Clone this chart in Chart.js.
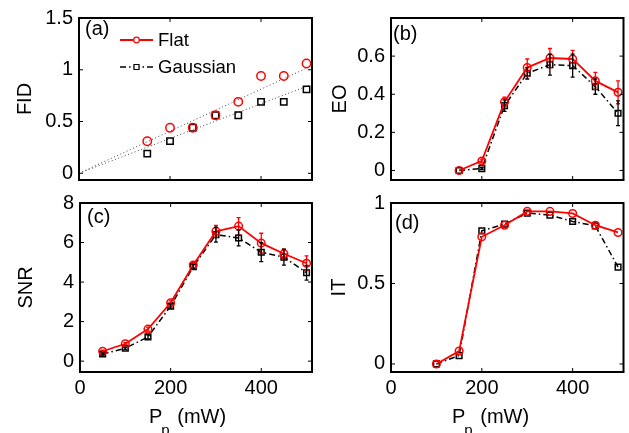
<!DOCTYPE html>
<html>
<head>
<meta charset="utf-8">
<title>Pump power dependence</title>
<script src="https://cdn.jsdelivr.net/npm/chart.js@4"></script>
<style>
  html, body { margin: 0; padding: 0; background: #fff; }
  #wrap { position: relative; width: 629px; height: 433px; }
  #wrap canvas { position: absolute; left: 0; top: 0; }
</style>
</head>
<body>
<div id="wrap">
  <canvas id="fid" width="629" height="433"></canvas>
  <canvas id="eo" width="629" height="433"></canvas>
  <canvas id="snr" width="629" height="433"></canvas>
  <canvas id="it" width="629" height="433"></canvas>
</div>
<script>
// pump power (mW) and measured quantities, flat-top vs gaussian pump
const xTicks = [0, 200, 400];
const xMax = 512;

// (a) FID
const fidPower = [150, 200, 250, 300, 350, 400, 450, 500];
const fidFlat  = [0.31, 0.44, 0.44, 0.56, 0.69, 0.94, 0.94, 1.06];
const fidGauss = [0.19, 0.31, 0.44, 0.56, 0.56, 0.69, 0.69, 0.81];
const fitPower = [0, 512];
const fitFlat  = [0, 1.04];
const fitGauss = [0, 0.86];
const fidTicks = [0, 0.5, 1, 1.5];

// (b) EO
const eoPower    = [150, 200, 250, 300, 350, 400, 450, 500];
const eoFlat     = [0, 0.05, 0.36, 0.54, 0.59, 0.585, 0.47, 0.41];
const eoFlatErr  = [0, 0.01, 0.025, 0.045, 0.05, 0.045, 0.045, 0.06];
const eoGauss    = [0, 0.01, 0.34, 0.51, 0.555, 0.55, 0.44, 0.30];
const eoGaussErr = [0, 0.005, 0.03, 0.03, 0.055, 0.06, 0.04, 0.065];
const eoTicks = [0, 0.2, 0.4, 0.6];

// (c) SNR
const snrPower    = [50, 100, 150, 200, 250, 300, 350, 400, 450, 500];
const snrFlat     = [0.5, 0.88, 1.62, 2.95, 4.86, 6.57, 6.83, 5.97, 5.43, 4.95];
const snrFlatErr  = [0.05, 0.06, 0.1, 0.1, 0.12, 0.3, 0.43, 0.5, 0.24, 0.37];
const snrGauss    = [0.36, 0.65, 1.23, 2.78, 4.78, 6.4, 6.23, 5.51, 5.26, 4.47];
const snrGaussErr = [0.05, 0.06, 0.1, 0.1, 0.1, 0.38, 0.4, 0.48, 0.4, 0.37];
const snrTicks = [0, 2, 4, 6, 8];

// (d) IT
const itPower = [100, 150, 200, 250, 300, 350, 400, 450, 500];
const itFlat  = [0, 0.08, 0.79, 0.862, 0.948, 0.948, 0.935, 0.862, 0.817];
const itGauss = [0, 0.052, 0.827, 0.869, 0.9375, 0.925, 0.885, 0.858, 0.602];
const itTicks = [0, 0.5, 1];

const FONT = "'Liberation Sans', Arial, Helvetica, sans-serif";
Chart.defaults.font.family = FONT;
Chart.defaults.font.size = 20;
Chart.defaults.color = '#000';

const RED = '#ff0000';
const flatStyle = {
  borderColor: RED, borderWidth: 1.8, pointStyle: 'circle', pointRadius: 3.8,
  pointBorderWidth: 1.5, pointBorderColor: RED, pointBackgroundColor: 'rgba(0,0,0,0)'
};
const gaussStyle = {
  borderColor: '#000', borderWidth: 1.5, borderDash: [6, 3, 1.5, 3], pointStyle: 'rect',
  pointRadius: 4, pointBorderWidth: 1.5, pointBorderColor: '#000', pointBackgroundColor: 'rgba(0,0,0,0)'
};

const pts = (xs, ys) => xs.map((x, i) => ({ x, y: ys[i] }));

// box, inward ticks, error bars, panel letter, subscripted x title and legend
const frame = {
  id: 'frame',
  afterDatasetsDraw(chart, args, o) {
    const { ctx, chartArea: a, scales: { x, y } } = chart;
    ctx.save();
    ctx.setLineDash([]);

    chart.data.datasets.forEach((ds, i) => {
      if (!ds.errors) return;
      const meta = chart.getDatasetMeta(i);
      ctx.strokeStyle = ds.borderColor;
      ctx.lineWidth = 1.3;
      meta.data.forEach((pt, j) => {
        const e = ds.errors[j];
        if (!e) return;
        const v = ds.data[j].y;
        const y1 = y.getPixelForValue(v - e), y2 = y.getPixelForValue(v + e);
        ctx.beginPath();
        ctx.moveTo(pt.x, y1); ctx.lineTo(pt.x, y2);
        ctx.moveTo(pt.x - 2, y1); ctx.lineTo(pt.x + 2, y1);
        ctx.moveTo(pt.x - 2, y2); ctx.lineTo(pt.x + 2, y2);
        ctx.stroke();
      });
    });

    ctx.strokeStyle = '#000';
    ctx.lineWidth = 2;
    ctx.strokeRect(a.left, a.top, a.right - a.left, a.bottom - a.top);

    ctx.lineWidth = 1;
    ctx.beginPath();
    x.ticks.forEach(t => {
      const px = x.getPixelForValue(t.value);
      ctx.moveTo(px, a.bottom); ctx.lineTo(px, a.bottom - 4);
      ctx.moveTo(px, a.top); ctx.lineTo(px, a.top + 4);
    });
    y.ticks.forEach(t => {
      const py = y.getPixelForValue(t.value);
      ctx.moveTo(a.left, py); ctx.lineTo(a.left + 4, py);
      ctx.moveTo(a.right, py); ctx.lineTo(a.right - 4, py);
    });
    ctx.stroke();

    ctx.fillStyle = '#000';
    ctx.font = '20px ' + FONT;
    ctx.textBaseline = 'top';
    ctx.textAlign = 'left';
    ctx.fillText(o.label, o.labelX, o.labelY);

    if (o.xTitleX) {
      ctx.textBaseline = 'alphabetic';
      let cx = o.xTitleX;
      ctx.fillText('P', cx, 423);
      cx += ctx.measureText('P').width - 1;
      ctx.font = '15px ' + FONT;
      ctx.fillText('p', cx, 435);
      cx += ctx.measureText('p').width + 2;
      ctx.font = '20px ' + FONT;
      ctx.fillText(' (mW)', cx, 423);
    }

    if (o.legend) {
      ctx.font = '18.5px ' + FONT;
      ctx.textBaseline = 'middle';
      o.legend.forEach((item, k) => {
        const ly = 40 + k * 27, x0 = 120, x1 = 153, xm = (x0 + x1) / 2;
        const st = item.style;
        ctx.strokeStyle = st.borderColor;
        ctx.lineWidth = st.borderWidth;
        ctx.setLineDash(st.borderDash || []);
        ctx.beginPath(); ctx.moveTo(x0, ly); ctx.lineTo(x1, ly); ctx.stroke();
        ctx.setLineDash([]);
        ctx.lineWidth = 1.2;
        ctx.fillStyle = '#fff';
        ctx.beginPath();
        if (st.pointStyle === 'circle') ctx.arc(xm, ly, 2.8, 0, Math.PI * 2);
        else ctx.rect(xm - 2.5, ly - 2.5, 5, 5);
        ctx.fill(); ctx.stroke();
        ctx.fillStyle = '#000';
        ctx.fillText(item.text, 158, ly + 1);
      });
    }
    ctx.restore();
  }
};

function makePanel(id, p) {
  const padLeft = p.yTitleX - 12;
  const xh = p.xLabels ? 433 - p.area.b : 2;
  return new Chart(document.getElementById(id), {
    type: 'line',
    data: { datasets: p.datasets },
    options: {
      responsive: false,
      animation: false,
      events: [],
      layout: { padding: { left: padLeft, top: p.area.t, right: 629 - p.area.r, bottom: 433 - p.area.b - xh } },
      scales: {
        x: {
          type: 'linear', min: 0, max: xMax,
          afterBuildTicks: s => { s.ticks = xTicks.map(v => ({ value: v })); },
          afterFit: s => { s.height = xh; },
          grid: { display: false, drawTicks: false },
          border: { display: false },
          ticks: { display: !!p.xLabels, padding: 4, callback: v => String(v) }
        },
        y: {
          type: 'linear', min: p.yMin, max: p.yMax,
          afterBuildTicks: s => { s.ticks = p.yTicks.map(v => ({ value: v })); },
          afterFit: s => { s.width = p.area.l - padLeft; },
          grid: { display: false, drawTicks: false },
          border: { display: false },
          ticks: { padding: 6, callback: v => String(v) },
          title: { display: true, text: p.yTitle, font: { size: 20 }, padding: { top: 0, bottom: 0 } }
        }
      },
      plugins: {
        legend: { display: false },
        tooltip: { enabled: false },
        frame: { label: p.label, labelX: p.labelX, labelY: p.labelY, xTitleX: p.xTitleX, legend: p.legend }
      }
    },
    plugins: [frame]
  });
}

makePanel('fid', {
  area: { l: 79, t: 16, r: 312, b: 180 }, yTitleX: 25, yTitle: 'FID',
  yMin: -0.065, yMax: 1.5, yTicks: fidTicks,
  label: '(a)', labelX: 85, labelY: 19,
  legend: [{ text: 'Flat', style: flatStyle }, { text: 'Gaussian', style: gaussStyle }],
  datasets: [
    { ...flatStyle, data: pts(fidPower, fidFlat), showLine: false, pointRadius: 4.2 },
    { ...gaussStyle, data: pts(fidPower, fidGauss), showLine: false, pointRadius: 4.5 },
    { data: pts(fitPower, fitFlat), borderColor: '#444', borderWidth: 1, borderDash: [1, 2.5], pointRadius: 0 },
    { data: pts(fitPower, fitGauss), borderColor: '#444', borderWidth: 1, borderDash: [1, 2.5], pointRadius: 0 }
  ]
});

makePanel('eo', {
  area: { l: 391, t: 16, r: 624, b: 180 }, yTitleX: 340, yTitle: 'EO',
  yMin: -0.05, yMax: 0.8, yTicks: eoTicks,
  label: '(b)', labelX: 393, labelY: 24,
  datasets: [
    { ...flatStyle, data: pts(eoPower, eoFlat), errors: eoFlatErr },
    { ...gaussStyle, data: pts(eoPower, eoGauss), errors: eoGaussErr }
  ]
});

makePanel('snr', {
  area: { l: 80, t: 203, r: 312, b: 372 }, yTitleX: 26, yTitle: 'SNR',
  yMin: -0.55, yMax: 8, yTicks: snrTicks, xLabels: true, xTitleX: 149,
  label: '(c)', labelX: 87, labelY: 207,
  datasets: [
    { ...flatStyle, data: pts(snrPower, snrFlat), errors: snrFlatErr },
    { ...gaussStyle, data: pts(snrPower, snrGauss), errors: snrGaussErr }
  ]
});

makePanel('it', {
  area: { l: 391, t: 203, r: 624, b: 372 }, yTitleX: 339, yTitle: 'IT',
  yMin: -0.05, yMax: 1, yTicks: itTicks, xLabels: true, xTitleX: 452,
  label: '(d)', labelX: 395, labelY: 213,
  datasets: [
    { ...flatStyle, data: pts(itPower, itFlat) },
    { ...gaussStyle, data: pts(itPower, itGauss) }
  ]
});
</script>
</body>
</html>
